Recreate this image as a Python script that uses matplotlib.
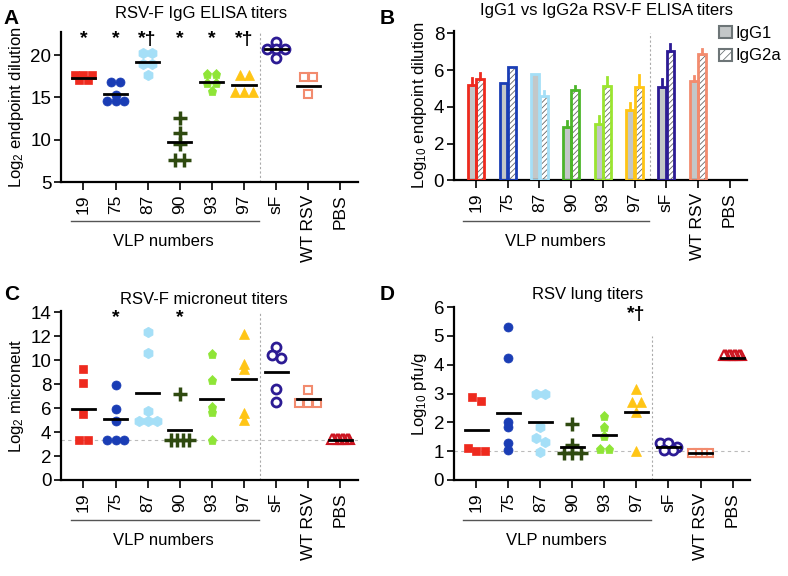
import numpy as np
import matplotlib
matplotlib.use('Agg')
import matplotlib.pyplot as plt
from matplotlib.patches import Patch

plt.rcParams['font.family'] = ['Liberation Sans', 'DejaVu Sans']
plt.rcParams['mathtext.fontset'] = 'custom'
plt.rcParams['mathtext.rm'] = 'Liberation Sans'
plt.rcParams['mathtext.default'] = 'rm'
plt.rcParams['hatch.linewidth'] = 0.6

groups = ['19', '75', '87', '90', '93', '97', 'sF', 'WT RSV', 'PBS']
colors = ['#ee2a1e', '#1a3db5', '#a5dff7', '#2f4a10', '#8fe537', '#ffc515',
          '#2c1b94', '#f28b6e', '#cc1420']
bar_colors = ['#ee2a1e', '#1a3db5', '#a5dff7', '#4cb52a', '#9be530', '#ffc515',
              '#2c1b94', '#f28b6e']
markers = ['s', 'o', 'h', '+', 'p', '^', 'o', 's', '^']
hollow = [False, False, False, False, False, False, True, True, True]

# A: RSV-F IgG ELISA (log2 endpoint dilution)
a_vals = [
    [17.6, 17.6, 17.6, 17.1, 17.1],
    [16.8, 16.8, 15.3, 14.6, 14.6, 14.6],
    [20.2, 20.2, 18.9, 18.9, 17.7],
    [12.6, 10.8, 9.5, 7.6, 7.6],
    [17.8, 17.8, 16.7, 16.7, 15.8],
    [17.6, 17.6, 15.6, 15.6, 15.6],
    [21.6, 20.7, 20.7, 20.7, 19.6],
    [17.4, 17.4, 15.4],
    [],
]
a_means = [17.3, 15.45, 19.2, 9.7, 16.8, 16.5, 20.7, 16.4, None]
a_sig = ['*', '*', '*†', '*', '*', '*†', '', '', '']

# B: IgG1 vs IgG2a (log10 endpoint dilution), 8 groups (no PBS bars)
igg1 = [5.19, 5.32, 5.79, 2.89, 3.07, 3.83, 5.06, 5.41]
igg1_err = [0.36, 0.0, 0.0, 0.36, 0.43, 0.40, 0.44, 0.27]
igg2a = [5.50, 6.19, 4.61, 4.92, 5.14, 5.05, 7.04, 6.88]
igg2a_err = [0.36, 0.0, 0.27, 0.21, 0.46, 0.68, 0.38, 0.29]

# C: microneut titers (log2)
c_vals = [
    [9.3, 8.1, 5.5, 3.37, 3.37],
    [7.9, 5.9, 4.96, 3.35, 3.35, 3.35],
    [12.4, 10.6, 5.8, 4.94, 4.94, 4.94],
    [7.22, 3.35, 3.35, 3.35, 3.35],
    [10.54, 8.37, 6.13, 5.66, 3.32],
    [12.21, 9.7, 9.31, 5.58, 5.02],
    [11.15, 10.4, 10.15, 7.58, 6.55],
    [7.5, 6.41, 6.41, 6.41],
    [3.45] * 8,
]
c_means = [5.97, 5.07, 7.3, 4.18, 6.75, 8.45, 9.06, 6.78, 3.35]
c_sig = ['', '*', '', '*', '', '', '', '', '']

# D: lung titers (log10 pfu/g)
d_vals = [
    [2.88, 2.73, 1.1, 1.0, 1.0],
    [5.3, 4.23, 2.03, 1.84, 1.27, 1.03],
    [3.0, 3.0, 1.85, 1.47, 1.33, 0.98],
    [1.93, 1.22, 0.95, 0.95, 0.95],
    [2.22, 1.83, 1.54, 1.07, 1.07],
    [3.15, 2.72, 2.72, 2.37, 1.02],
    [1.3, 1.3, 1.15, 1.05, 1.05],
    [0.93, 0.93, 0.93, 0.93],
    [4.34] * 8,
]
d_means = [1.75, 2.34, 2.0, 1.16, 1.56, 2.37, 1.16, 0.93, 4.23]
d_sig = ['', '', '', '', '', '*†', '', '', '']


def spread(vals, tol, step=0.28, maxw=0.55):
    # simple column-scatter: points with near-equal values sit side by side
    order = np.argsort(vals)[::-1]
    offs = np.zeros(len(vals))
    clusters = []
    for i in order:
        if clusters and abs(vals[clusters[-1][0]] - vals[i]) <= tol:
            clusters[-1].append(i)
        else:
            clusters.append([i])
    for cl in clusters:
        n = len(cl)
        if n == 1:
            continue
        s = min(step, maxw / (n - 1))
        for k, i in enumerate(cl):
            offs[i] = (k - (n - 1) / 2) * s
    return offs


def style_axes(ax, ylim, yticks, ylabel):
    ax.set_xlim(-0.7, 8.55)
    ax.set_ylim(*ylim)
    ax.set_yticks(yticks)
    ax.set_xticks(range(len(groups)))
    ax.set_xticklabels(groups, rotation=90, fontsize=12.5)
    ax.tick_params(axis='y', labelsize=13.5, length=5, width=1.2, direction='out', pad=2)
    ax.tick_params(axis='x', length=6, width=1.2, direction='out', pad=3)
    for s in ['top', 'right']:
        ax.spines[s].set_visible(False)
    for s in ['left', 'bottom']:
        ax.spines[s].set_linewidth(1.6)
    ax.set_ylabel(ylabel, fontsize=12, labelpad=3)


def vlp_bracket(ax, yline, ytext):
    tr = ax.get_xaxis_transform()
    ax.plot([-0.4, 5.45], [yline, yline], transform=tr, color='#555555',
            lw=1, clip_on=False)
    ax.text(2.5, ytext, 'VLP numbers', transform=tr, ha='center', va='center',
            fontsize=12)


def scatter_panel(ax, vals, means, sig, sig_y, tol):
    for i, v in enumerate(vals):
        if len(v) == 0:
            continue
        offs = spread(v, tol)
        xs = i + offs
        ms = {'h': 7.5, '+': 9.5, 's': 6.0}.get(markers[i], 6.5)
        if hollow[i]:
            ax.plot(xs, v, ls='none', marker=markers[i], ms=ms, mfc='white',
                    mec=colors[i], mew=2 if markers[i] == 'o' else 1.5, zorder=3)
        elif markers[i] == '+':
            ax.plot(xs, v, ls='none', marker='+', ms=ms, mec=colors[i], mew=2.5, zorder=3)
        else:
            ax.plot(xs, v, ls='none', marker=markers[i], ms=ms, mfc=colors[i],
                    mec=colors[i], mew=0.5, zorder=3)
    for i, m in enumerate(means):
        if m is None:
            continue
        ax.plot([i - 0.36, i + 0.36], [m, m], color='black', lw=2, zorder=4)
    for i, s in enumerate(sig):
        if s:
            ax.text(i, sig_y, s, ha='center', va='center', fontsize=14,
                    fontweight='bold', color='black')


fig = plt.figure(figsize=(7.88, 5.76), dpi=100)
axA = fig.add_axes([0.0774, 0.684, 0.377, 0.260])
axB = fig.add_axes([0.576, 0.687, 0.372, 0.260])
axC = fig.add_axes([0.0774, 0.1667, 0.377, 0.293])
axD = fig.add_axes([0.576, 0.1667, 0.376, 0.300])

# Panel A
style_axes(axA, (5, 22.7), [5, 10, 15, 20], 'Log$_2$ endpoint dilution')
axA.plot([5.5, 5.5], [5, 22.6], ls=(0, (2, 2)), color='#aaaaaa', lw=0.8, zorder=1)
scatter_panel(axA, a_vals, a_means, a_sig, 21.9, 0.46)
axA.set_title('RSV-F IgG ELISA titers', fontsize=12, x=0.473, pad=10)
vlp_bracket(axA, -0.26, -0.40)

# Panel B
style_axes(axB, (0, 8.15), [0, 2, 4, 6, 8], 'Log$_{10}$ endpoint dilution')
axB.plot([5.5, 5.5], [0, 8.0], ls=(0, (2, 2)), color='#aaaaaa', lw=0.8, zorder=1)
bw = 0.25
x = np.arange(len(igg1))
axB.bar(x - 0.135, igg1, bw, color='#c3c7c8', lw=0, zorder=2)
axB.bar(x - 0.135, igg1, bw, fill=False, edgecolor=bar_colors, lw=2, zorder=3)
axB.bar(x + 0.135, igg2a, bw, color='white', edgecolor='#666666', hatch='//////',
        lw=0, zorder=2)
axB.bar(x + 0.135, igg2a, bw, fill=False, edgecolor=bar_colors, lw=2, zorder=3)
for i in range(len(igg1)):
    if igg1_err[i] > 0:
        axB.plot([i - 0.135, i - 0.135], [igg1[i], igg1[i] + igg1_err[i]],
                 color=bar_colors[i], lw=2, zorder=3)
    if igg2a_err[i] > 0:
        axB.plot([i + 0.135, i + 0.135], [igg2a[i], igg2a[i] + igg2a_err[i]],
                 color=bar_colors[i], lw=2, zorder=3)
axB.set_title('IgG1 vs IgG2a RSV-F ELISA titers', fontsize=12, x=0.52, pad=11)
vlp_bracket(axB, -0.272, -0.41)
handles = [Patch(facecolor='#c3c7c8', edgecolor='#6d7577', lw=1.5, label='IgG1'),
           Patch(facecolor='white', edgecolor='#6d7577', lw=1.5, hatch='////',
                 label='IgG2a')]
fig.legend(handles=handles, loc='upper left', bbox_to_anchor=(0.913, 0.955),
           frameon=False, fontsize=12, handlelength=0.75, handleheight=0.75,
           handletextpad=0.2, labelspacing=0.45, borderpad=0, borderaxespad=0)

# Panel C
style_axes(axC, (0, 14.1), [0, 2, 4, 6, 8, 10, 12, 14], 'Log$_2$ microneut')
axC.axhline(3.35, ls=(0, (3, 3)), color='#bbbbbb', lw=0.8, zorder=1)
axC.plot([5.5, 5.5], [0, 14.0], ls=(0, (2, 2)), color='#aaaaaa', lw=0.8, zorder=1)
scatter_panel(axC, c_vals, c_means, c_sig, 13.6, 0.37)
axC.set_title('RSV-F microneut titers', fontsize=12, x=0.48, pad=5)
vlp_bracket(axC, -0.237, -0.359)

# Panel D
style_axes(axD, (0, 6.0), [0, 1, 2, 3, 4, 5, 6], 'Log$_{10}$ pfu/g')
axD.axhline(1.0, ls=(0, (3, 3)), color='#bbbbbb', lw=0.8, zorder=1)
axD.plot([5.5, 5.5], [0, 5.0], ls=(0, (2, 2)), color='#aaaaaa', lw=0.8, zorder=1)
scatter_panel(axD, d_vals, d_means, d_sig, 5.75, 0.156)
axD.set_title('RSV lung titers', fontsize=12, x=0.45, pad=6)
vlp_bracket(axD, -0.232, -0.351)

for lab, xx, yy in [('A', 0.005, 0.985), ('B', 0.482, 0.985),
                    ('C', 0.005, 0.505), ('D', 0.482, 0.505)]:
    fig.text(xx, yy, lab, fontsize=15, fontweight='bold', ha='left', va='top')

fig.savefig('out.png', dpi=100)
